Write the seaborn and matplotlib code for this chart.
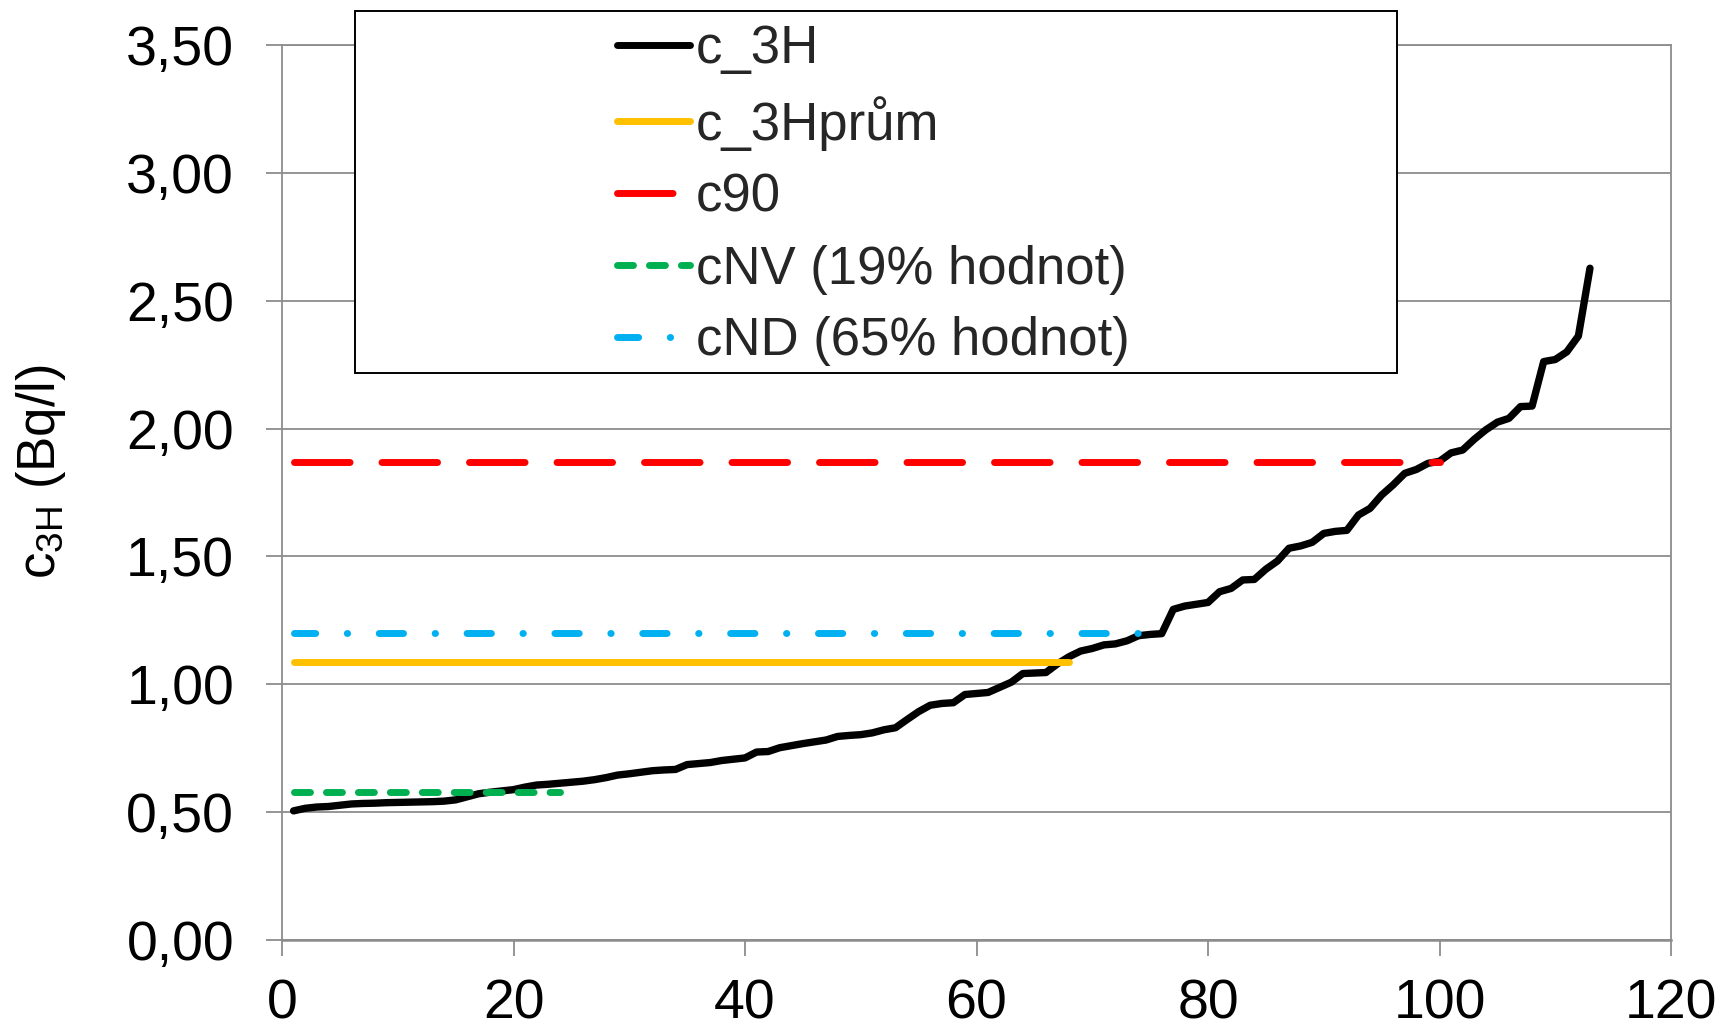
import matplotlib
matplotlib.use("Agg")
import matplotlib.pyplot as plt
import seaborn as sns
import pandas as pd
from matplotlib.patches import Rectangle
from matplotlib.lines import Line2D

# ---------------- data ----------------
x_index = list(range(1, 114))
c_3H = [0.505, 0.515, 0.520, 0.522, 0.527, 0.532, 0.534, 0.535, 0.537, 0.538,
        0.539, 0.540, 0.541, 0.543, 0.548, 0.560, 0.572, 0.578, 0.583, 0.588,
        0.598, 0.606, 0.609, 0.613, 0.617, 0.621, 0.627, 0.635, 0.645, 0.650,
        0.656, 0.662, 0.665, 0.667, 0.686, 0.690, 0.694, 0.702, 0.707, 0.712,
        0.735, 0.737, 0.752, 0.760, 0.768, 0.775, 0.782, 0.796, 0.800, 0.803,
        0.810, 0.822, 0.830, 0.862, 0.893, 0.918, 0.925, 0.928, 0.960, 0.964,
        0.968, 0.988, 1.008, 1.042, 1.044, 1.046, 1.080, 1.108, 1.130, 1.140,
        1.154, 1.158, 1.170, 1.190, 1.195, 1.198, 1.293, 1.306, 1.313, 1.320,
        1.362, 1.375, 1.408, 1.410, 1.450, 1.482, 1.532, 1.541, 1.555, 1.590,
        1.598, 1.602, 1.662, 1.688, 1.740, 1.780, 1.825, 1.840, 1.864, 1.872,
        1.905, 1.916, 1.958, 1.995, 2.025, 2.040, 2.086, 2.088, 2.262, 2.270,
        2.300, 2.362, 2.627]

c_3Hprum_value = 1.088
c_3Hprum_end = 68
c90_value = 1.871
c90_end = 100
cNV_value = 0.577
cNV_end = 24
cND_value = 1.20
cND_end = 74

series_labels = ["c_3H", "c_3Hprům", "c90", "cNV (19% hodnot)", "cND (65% hodnot)"]
x_ticks = [0, 20, 40, 60, 80, 100, 120]
y_ticks = [0.0, 0.5, 1.0, 1.5, 2.0, 2.5, 3.0, 3.5]
y_label = r"c$_{3H}$ (Bq/l)"

# ---------------- style ----------------
sns.set_theme(style="white")
plt.rcParams["font.family"] = ["Liberation Sans", "DejaVu Sans"]
plt.rcParams["mathtext.default"] = "regular"

GRAY = "#8c8c8c"
LW = 5.0

fig = plt.figure(figsize=(17.2, 10.3), dpi=100)
ax = fig.add_axes([282 / 1720, 1 - 940 / 1030, (1671 - 282) / 1720, (940 - 45) / 1030])

df_main = pd.DataFrame({"x": x_index, "y": c_3H})
sns.lineplot(data=df_main, x="x", y="y", ax=ax, color="black", lw=5.3,
             solid_capstyle="round", solid_joinstyle="round", zorder=3)

def hline(value, end, color, ls):
    d = pd.DataFrame({"x": list(range(1, end + 1)), "y": [value] * end})
    sns.lineplot(data=d, x="x", y="y", ax=ax, color=color, lw=LW, linestyle=ls,
                 dash_capstyle="round", solid_capstyle="round", zorder=4)

ls_prum = "-"
ls_c90 = (0, (8.0, 4.6))
ls_nv = (0, (2.3, 2.3))
ls_nd = (0.45, (3.5, 4.55, 0.05, 4.55))

hline(c_3Hprum_value, c_3Hprum_end, "#FFC000", ls_prum)
hline(c90_value, c90_end, "#FF0000", ls_c90)
hline(cNV_value, cNV_end, "#00B050", ls_nv)
hline(cND_value, cND_end, "#00B0F0", ls_nd)

ax.set_xlim(0, 120)
ax.set_ylim(0, 3.5)
ax.set_xticks(x_ticks)
ax.set_xticklabels([str(t) for t in x_ticks])
ax.set_yticks(y_ticks)
ax.set_yticklabels([f"{t:.2f}".replace(".", ",") for t in y_ticks])
ax.set_xlabel("")
ax.set_ylabel(y_label, fontsize=38, color="black")
ax.yaxis.set_label_coords(-0.154, 0.523)

ax.grid(axis="y", color=GRAY, lw=1.3)
ax.grid(axis="x", visible=False)
for s in ax.spines.values():
    s.set_visible(True)
    s.set_color(GRAY)
    s.set_linewidth(1.3)
ax.spines["bottom"].set_linewidth(1.8)
ax.tick_params(axis="both", which="major", labelsize=40, labelcolor="black",
               color=GRAY, width=1.3, length=11.5, direction="out")
ax.tick_params(axis="y", pad=23)
ax.tick_params(axis="x", pad=16)
ax.tick_params(bottom=True, left=True, top=False, right=False)
ax.set_facecolor("white")

# legend box (Excel-style, wider than its contents)
box = Rectangle((355 / 1720, 1 - 373 / 1030), (1397 - 355) / 1720, (373 - 11) / 1030,
                transform=fig.transFigure, facecolor="white", edgecolor="black",
                lw=1.4, zorder=2)
fig.add_artist(box)

handles = [
    Line2D([], [], color="black", lw=LW, solid_capstyle="round"),
    Line2D([], [], color="#FFC000", lw=LW, solid_capstyle="round"),
    Line2D([], [], color="#FF0000", lw=LW, linestyle=ls_c90, dash_capstyle="round"),
    Line2D([], [], color="#00B050", lw=LW, linestyle=ls_nv, dash_capstyle="round"),
    Line2D([], [], color="#00B0F0", lw=LW, linestyle=ls_nd, dash_capstyle="round"),
]
leg = fig.legend(handles, series_labels, loc="upper left",
                 bbox_to_anchor=(617 / 1720, 1 - 24 / 1030),
                 frameon=False, fontsize=38, handlelength=1.38, handletextpad=0.12,
                 labelspacing=0.415, borderpad=0, borderaxespad=0)
leg.set_zorder(5)

if ax.get_legend() is not None:
    ax.get_legend().remove()

fig.savefig("out.png", dpi=100, facecolor="white")
